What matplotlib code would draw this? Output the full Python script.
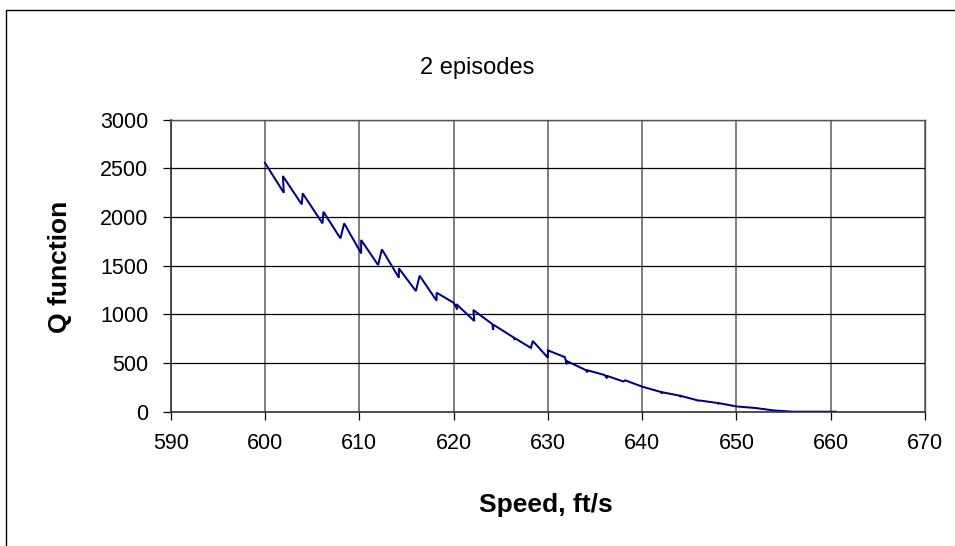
import matplotlib
matplotlib.use("Agg")
import matplotlib.pyplot as plt
from matplotlib.patches import Rectangle

plt.rcParams['font.family'] = ['Liberation Sans', 'DejaVu Sans']

# Q function vs speed after 2 episodes (sawtooth from per-step updates)
speed = [600.0,
         602.0, 601.9, 603.9, 604.0, 606.1, 606.2, 608.0, 608.4,
         610.2, 610.2, 612.0, 612.4, 614.2, 614.2, 616.0, 616.4,
         618.2, 618.2, 620.0, 620.4, 620.3, 622.2, 622.1,
         624.1, 624.2, 624.2, 626.4, 626.5, 626.5, 628.2, 628.4,
         630.0, 630.0, 631.8, 632.0, 632.0, 634.0, 634.2, 634.2,
         636.0, 636.3, 636.2, 638.0, 638.2, 640.0,
         642.0, 642.1, 642.1, 644.0, 644.1, 644.1, 646.0, 646.1,
         648.0, 648.1, 648.1, 650.0, 652.0, 654.0, 656.0, 658.0, 660.5]
q_value = [2556,
           2248, 2420, 2129, 2242, 1934, 2053, 1780, 1934,
           1626, 1763, 1506, 1667, 1376, 1472, 1239, 1396,
           1140, 1222, 1119, 1051, 1105, 931, 1044,
           900, 839, 895, 760, 736, 755, 655, 726,
           554, 630, 560, 487, 520, 428, 405, 425,
           377, 343, 370, 310, 322, 257,
           202, 185, 200, 164, 150, 162, 113, 115,
           89, 78, 88, 54, 38, 12, 0, 0, 0]

x_ticks = list(range(590, 671, 10))
y_ticks = list(range(0, 3001, 500))

fig = plt.figure(figsize=(9.55, 5.46), dpi=100)
ax = fig.add_axes([0.1787, 0.246, 0.79, 0.535])

ax.plot(speed, q_value, color='#000080', lw=1.45, solid_joinstyle='miter')

ax.set_xlim(590, 670)
ax.set_ylim(0, 3000)
ax.set_xticks(x_ticks)
ax.set_yticks(y_ticks)
ax.xaxis.grid(True, color='#6a6a6a', lw=1.2)
ax.yaxis.grid(True, color='black', lw=0.9)
ax.set_axisbelow(True)
ax.tick_params(axis='both', direction='out', length=6, width=0.9,
               labelsize=15.5, color='black')
ax.tick_params(axis='x', pad=9)
ax.tick_params(axis='y', pad=10)
for side in ['left', 'bottom']:
    ax.spines[side].set_color('#333333')
    ax.spines[side].set_linewidth(1.2)
for side in ['top', 'right']:
    ax.spines[side].set_color('#555555')
    ax.spines[side].set_linewidth(1.0)

fig.text(0.5, 0.875, '2 episodes', ha='center', va='center', fontsize=17)
fig.text(0.572, 0.076, 'Speed, ft/s', ha='center', va='center',
         fontsize=19, fontweight='bold')
fig.text(0.063, 0.511, 'Q function', ha='center', va='center',
         rotation=90, fontsize=19, fontweight='bold')

# chart frame around everything, running off the right and bottom edges
fig.patches.append(Rectangle((6 / 955, -0.05), 1.2, 1 - 10 / 546 + 0.05,
                             transform=fig.transFigure, fill=False,
                             edgecolor='black', lw=1.0))

fig.savefig('out.png', dpi=100)
